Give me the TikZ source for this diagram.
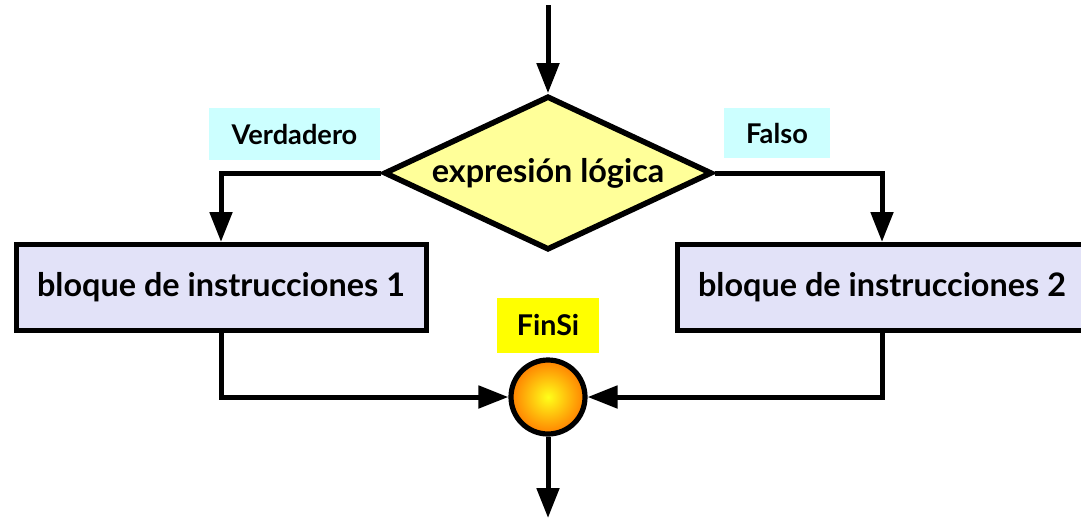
\documentclass[tikz,border=0pt]{standalone}
\usepackage{fontspec}
\setmainfont{Lato}
\usetikzlibrary{shapes.geometric,arrows.meta,positioning}

\definecolor{diamondfill}{HTML}{FFFF99}
\definecolor{blockfill}{HTML}{E2E2F8}
\definecolor{tagfill}{HTML}{CCFFFF}
\definecolor{finfill}{HTML}{FFFF00}

\tikzset{
  flow/.style={line width=2.5pt, -{Triangle[length=15pt,width=11pt]}},
  block/.style={draw, line width=2.5pt, fill=blockfill, minimum width=205pt, minimum height=43pt, inner sep=0pt, font=\fontsize{16.2}{19}\selectfont\bfseries},
  cond/.style={draw, diamond, aspect=2.1, line width=2.8pt, fill=diamondfill, minimum width=164pt, minimum height=77pt, inner sep=0pt, font=\fontsize{16.2}{19}\selectfont\bfseries},
  tag/.style={fill=tagfill, inner sep=0pt, font=\fontsize{13.6}{16}\selectfont\bfseries},
  joint/.style={draw, circle, line width=2.6pt, minimum size=37pt, inner sep=0pt, shading=radial, inner color=yellow!90!white, outer color=orange}
}

\begin{document}
\begin{tikzpicture}[x=0.5pt, y=-0.5pt]
    \useasboundingbox[fill=white] (0,0) rectangle (1081,520);

    % Decision
    \coordinate (start) at (548,5);
    \node[cond] (expr) at (548,173) {expresión lógica};
    \draw[flow] (start) -- (expr.north);

    % Branch labels
    \node[tag, minimum width=85.5pt, minimum height=26pt] (truetag) at (294.5,134) {Verdadero};
    \node[tag, minimum width=53pt, minimum height=25pt] (falsetag) at (777,133) {Falso};

    % Blocks
    \node[block] (blk1) at (221,287.5) {bloque de instrucciones 1};
    \node[block] (blk2) at (882,287.5) {bloque de instrucciones 2};
    \draw[flow] (expr.west) -| (blk1.north);
    \draw[flow] (expr.east) -| (blk2.north);

    % Join
    \node[fill=finfill, minimum width=51pt, minimum height=27.5pt, inner sep=0pt, font=\fontsize{14.3}{17}\selectfont\bfseries] (fintag) at (548,325.5) {FinSi};
    \node[joint] (fin) at (548,397) {};
    \draw[flow] (blk1.south) |- (fin.west);
    \draw[flow] (blk2.south) |- (fin.east);
    \coordinate (end) at (548,518);
    \draw[flow] (fin.south) -- (end);
\end{tikzpicture}
\end{document}
